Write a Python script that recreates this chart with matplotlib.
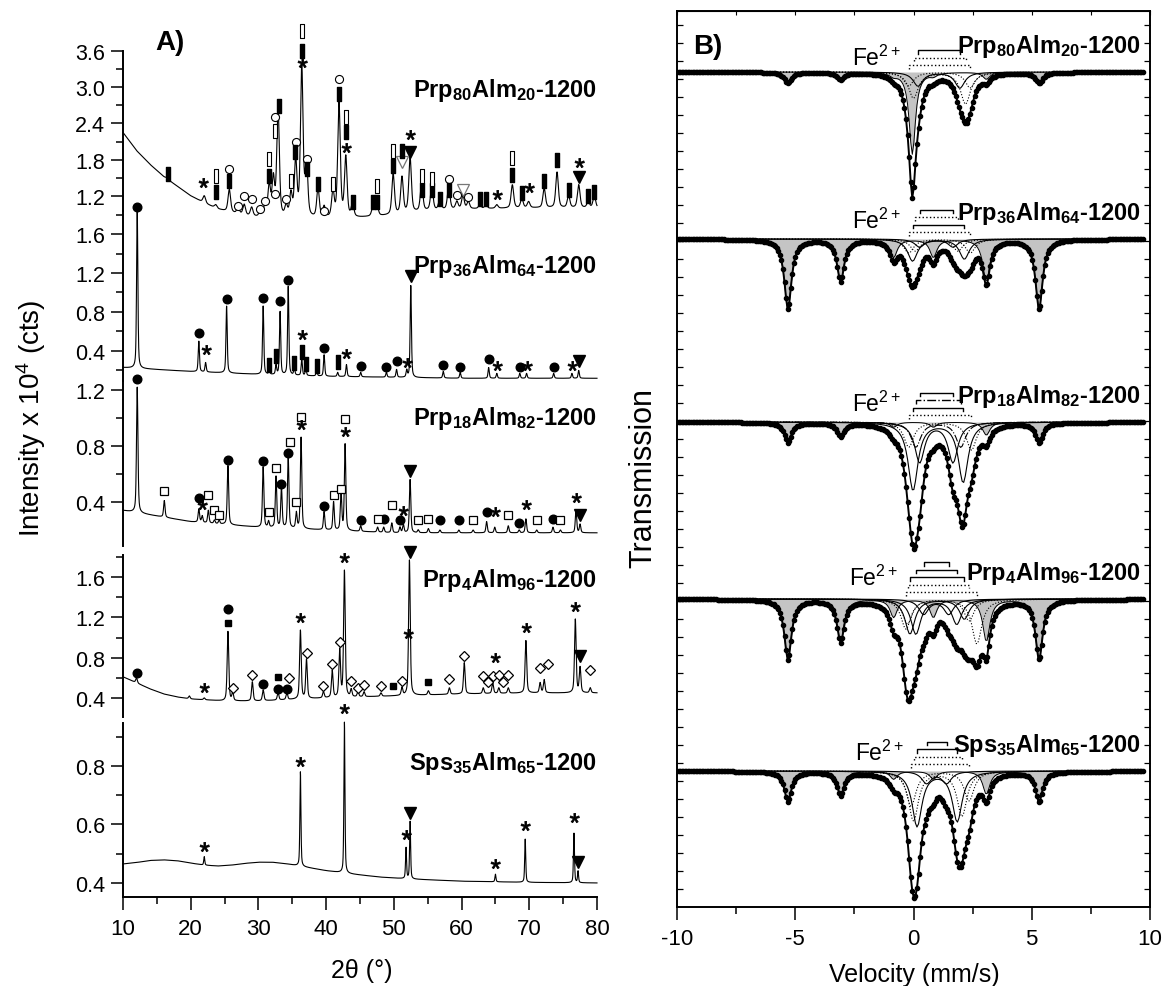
import numpy as np
import matplotlib.pyplot as plt
from matplotlib.path import Path
from matplotlib.textpath import TextPath
from matplotlib.font_manager import FontProperties

plt.rcParams['font.family'] = ['Liberation Sans', 'DejaVu Sans']
plt.rcParams['mathtext.default'] = 'regular'
plt.rcParams['axes.unicode_minus'] = False

W, H = 1165, 987
def fx(p): return p / W
def fy(p): return 1 - p / H

# ---------------- A) XRD ----------------
nomes = ['Prp$_{80}$Alm$_{20}$-1200', 'Prp$_{36}$Alm$_{64}$-1200', 'Prp$_{18}$Alm$_{82}$-1200',
         'Prp$_{4}$Alm$_{96}$-1200', 'Sps$_{35}$Alm$_{65}$-1200']

# fundo (2theta, cts x10^4)
bg1 = [(10, 2.25), (12, 1.95), (14, 1.72), (16, 1.52), (18, 1.36), (20, 1.2), (22, 1.08), (24, 0.98),
       (26, 0.92), (28, 0.87), (30, 0.84), (35, 0.82), (40, 0.82), (45, 0.84), (50, 0.88), (55, 0.95),
       (60, 0.98), (65, 0.99), (70, 1.0), (80, 1.0)]
bg2 = [(10, 0.23), (20, 0.19), (30, 0.16), (40, 0.14), (50, 0.13), (60, 0.12), (80, 0.12)]
bg3 = [(10, 0.34), (15, 0.30), (20, 0.26), (25, 0.24), (30, 0.22), (40, 0.20), (50, 0.18), (80, 0.18)]
bg4 = [(10, 0.61), (12, 0.55), (14, 0.49), (16, 0.44), (18, 0.41), (20, 0.39), (25, 0.37), (30, 0.37),
       (40, 0.40), (50, 0.42), (60, 0.44), (70, 0.45), (80, 0.45)]
bg5 = [(10, 0.465), (12, 0.47), (14, 0.477), (16, 0.479), (18, 0.476), (20, 0.468), (22, 0.461),
       (24, 0.458), (26, 0.461), (28, 0.467), (30, 0.471), (32, 0.471), (34, 0.466), (36, 0.458),
       (38, 0.45), (40, 0.442), (44, 0.43), (48, 0.42), (52, 0.414), (56, 0.41), (60, 0.406),
       (70, 0.402), (80, 0.40)]

# picos (posicao, topo)
pk1 = [(16.5, 1.50), (22.0, 1.20), (23.7, 1.05), (25.7, 1.30), (27.0, 1.00), (27.9, 1.05), (29.0, 1.00),
       (30.3, 0.95), (31.0, 1.05), (31.6, 1.35), (32.2, 1.45), (32.9, 2.62), (34.1, 1.00), (34.8, 1.20),
       (35.5, 1.75), (36.4, 3.30), (37.1, 1.72), (38.8, 1.30), (39.7, 1.00), (41.0, 1.25), (41.9, 2.72),
       (42.9, 1.82), (43.9, 1.05), (46.9, 1.00), (47.5, 1.05), (49.9, 1.55), (51.2, 1.50), (52.4, 1.82),
       (54.1, 1.40), (55.6, 1.35), (56.8, 1.15), (58.1, 1.35), (59.3, 1.10), (60.2, 1.20), (61.0, 1.10),
       (62.7, 1.05), (63.6, 1.05), (65.2, 1.05), (67.5, 1.38), (68.9, 1.15), (69.9, 1.10), (72.2, 1.32),
       (74.1, 1.59), (75.8, 1.20), (77.3, 1.38), (78.7, 1.10), (79.6, 1.20)]
pk2 = [(12.1, 1.86), (21.2, 0.50), (22.2, 0.28), (25.3, 0.86), (30.7, 0.86), (31.6, 0.20), (32.6, 0.25),
       (33.2, 0.80), (34.4, 1.06), (35.3, 0.22), (36.4, 0.31), (37.0, 0.22), (38.6, 0.20), (39.7, 0.36),
       (41.7, 0.18), (43.0, 0.26), (45.1, 0.18), (48.9, 0.18), (50.4, 0.21), (51.9, 0.20), (52.5, 1.07),
       (57.3, 0.19), (59.8, 0.18), (64.0, 0.23), (65.2, 0.17), (68.6, 0.17), (69.6, 0.17), (73.6, 0.17),
       (76.3, 0.17), (77.3, 0.20)]
pk3 = [(12.1, 1.22), (16.1, 0.41), (21.2, 0.35), (21.7, 0.30), (22.6, 0.34), (23.5, 0.27), (24.2, 0.27),
       (25.5, 0.66), (30.7, 0.65), (31.5, 0.26), (32.6, 0.58), (33.4, 0.50), (34.4, 0.72), (35.6, 0.32),
       (36.3, 0.86), (39.7, 0.33), (41.1, 0.40), (42.2, 0.47), (42.8, 0.81), (45.1, 0.23), (47.6, 0.22),
       (48.5, 0.22), (49.7, 0.25), (50.9, 0.22), (51.4, 0.24), (52.4, 0.56), (53.6, 0.20), (55.1, 0.21),
       (56.8, 0.20), (59.6, 0.20), (61.7, 0.20), (63.7, 0.26), (64.9, 0.22), (66.9, 0.23), (68.5, 0.20),
       (69.5, 0.28), (71.1, 0.20), (73.5, 0.22), (74.6, 0.20), (76.9, 0.34), (77.5, 0.24)]
pk4 = [(12.0, 0.60), (19.8, 0.42), (22.0, 0.40), (25.5, 1.06), (26.2, 0.45), (29.1, 0.56), (30.7, 0.48),
       (32.9, 0.45), (34.2, 0.45), (36.2, 1.07), (37.1, 0.78), (39.6, 0.46), (40.9, 0.67), (42.0, 0.87),
       (42.7, 1.66), (43.7, 0.48), (44.7, 0.46), (45.6, 0.46), (48.1, 0.45), (51.2, 0.50), (52.3, 1.77),
       (55.1, 0.47), (58.2, 0.50), (60.4, 0.75), (63.2, 0.50), (64.6, 0.55), (65.5, 0.50), (66.9, 0.50),
       (69.5, 0.97), (71.6, 0.55), (72.2, 0.58), (76.8, 1.18), (77.5, 0.70), (79.0, 0.50)]
pk5 = [(22.0, 0.49), (36.2, 0.78), (42.7, 0.95), (51.8, 0.52), (52.4, 0.61), (65.0, 0.43), (69.4, 0.55),
       (76.6, 0.57), (77.2, 0.44)]
larg = [0.45, 0.22, 0.25, 0.28, 0.18]

# simbolos das fases
star1 = [(21.8, 1.35), (36.4, 3.33), (43.0, 1.93), (52.4, 2.14), (65.2, 1.15), (69.9, 1.26), (77.3, 1.67)]
tri1 = [(52.4, 1.93), (77.3, 1.51)]
otri1 = [(51.2, 1.76), (60.2, 1.30)]
ocirc1 = [(25.7, 1.64), (27.0, 1.03), (27.9, 1.20), (29.0, 1.15), (30.3, 0.98), (31.0, 1.12), (32.4, 1.23),
          (32.5, 2.50), (34.1, 1.15), (35.5, 2.10), (37.1, 1.81), (39.7, 0.95), (41.9, 3.14), (58.1, 1.48),
          (59.3, 1.21), (61.0, 1.18)]
bar1 = [(16.6, 1.56), (23.7, 1.26), (25.7, 1.45), (31.6, 1.53), (33.1, 2.69), (35.4, 1.93), (36.4, 3.60),
        (37.1, 1.64), (38.8, 1.40), (41.9, 2.89), (43.0, 2.26), (43.9, 1.10), (46.9, 1.10), (47.5, 1.10),
        (49.9, 1.70), (51.2, 1.95), (54.1, 1.30), (55.6, 1.30), (56.8, 1.15), (58.1, 1.30), (62.7, 1.15),
        (63.6, 1.15), (67.5, 1.55), (68.9, 1.25), (72.2, 1.45), (74.1, 1.80), (75.8, 1.30), (78.7, 1.20),
        (79.6, 1.26)]
rect1 = [(23.7, 1.53), (31.6, 1.81), (32.5, 2.28), (34.8, 1.45), (36.4, 3.93), (41.0, 1.40), (42.9, 2.50),
         (47.5, 1.37), (49.9, 1.95), (54.1, 1.53), (55.6, 1.48), (67.5, 1.82)]

dot2 = [(12.1, 1.88), (21.2, 0.58), (25.3, 0.93), (30.7, 0.94), (33.2, 0.91), (34.4, 1.13), (39.7, 0.43),
        (45.1, 0.25), (48.9, 0.24), (50.4, 0.30), (57.3, 0.26), (59.8, 0.24), (64.0, 0.32), (68.6, 0.24),
        (73.6, 0.24)]
star2 = [(22.2, 0.37), (36.4, 0.52), (43.0, 0.33), (51.9, 0.24), (65.2, 0.20), (69.6, 0.20), (76.3, 0.20)]
bar2 = [(31.6, 0.26), (32.6, 0.35), (35.3, 0.28), (36.4, 0.39), (37.0, 0.27), (38.6, 0.25), (41.7, 0.29)]
tri2 = [(52.5, 1.17), (77.3, 0.30)]

dot3 = [(12.1, 1.28), (21.2, 0.43), (25.5, 0.70), (30.7, 0.69), (33.4, 0.53), (34.4, 0.75), (39.7, 0.37),
        (45.1, 0.27), (48.5, 0.28), (50.9, 0.27), (56.8, 0.27), (59.6, 0.27), (63.7, 0.33), (68.5, 0.25),
        (73.5, 0.28)]
sq3 = [(16.1, 0.48), (22.6, 0.45), (23.5, 0.34), (24.2, 0.31), (31.5, 0.33), (32.6, 0.64), (34.7, 0.83),
       (35.6, 0.40), (36.3, 1.01), (41.1, 0.45), (42.2, 0.49), (42.8, 0.99), (47.6, 0.28), (49.7, 0.38),
       (53.6, 0.27), (55.1, 0.28), (61.7, 0.27), (66.9, 0.31), (71.1, 0.27), (74.6, 0.27)]
star3 = [(21.7, 0.35), (36.3, 0.92), (42.8, 0.87), (51.4, 0.31), (64.9, 0.30), (69.5, 0.35), (76.9, 0.40)]
tri3 = [(52.4, 0.62), (77.5, 0.31)]

dot4 = [(12.0, 0.65), (25.5, 1.28), (30.7, 0.54), (32.9, 0.49), (34.2, 0.49)]
fsq4 = [(25.5, 1.14), (32.9, 0.61), (49.9, 0.52), (55.1, 0.56)]
dia4 = [(26.2, 0.50), (29.1, 0.63), (34.5, 0.60), (37.1, 0.85), (39.6, 0.52), (40.9, 0.74), (42.0, 0.96),
        (43.7, 0.57), (44.7, 0.50), (45.6, 0.53), (48.1, 0.52), (51.2, 0.57), (58.2, 0.59), (60.4, 0.82),
        (63.2, 0.62), (63.9, 0.56), (64.6, 0.62), (65.5, 0.63), (66.1, 0.56), (66.9, 0.63), (71.6, 0.70),
        (72.7, 0.74), (79.0, 0.68)]
star4 = [(22.0, 0.46), (36.2, 1.15), (42.7, 1.75), (52.1, 1.00), (64.9, 0.76), (69.5, 1.06), (76.8, 1.26)]
tri4 = [(52.4, 1.85), (77.5, 0.82)]

star5 = [(22.0, 0.51), (36.2, 0.80), (42.7, 0.98), (51.8, 0.55), (65.0, 0.45), (69.4, 0.58), (76.6, 0.61)]
tri5 = [(52.4, 0.64), (77.2, 0.47)]

# ---------------- B) Mossbauer ----------------
linhas_fe = [-5.31, -3.08, -0.84, 0.84, 3.08, 5.31]   # alpha-Fe
base_ms = [835, 668, 485, 308, 136]
sext_ms = [[11, 7, 3, 3, 7, 11],
           [70, 42, 18, 18, 42, 70],
           [20, 13, 5, 5, 13, 20],
           [60, 42, 18, 18, 42, 60],
           [30, 23, 8, 8, 23, 30]]
# dubletos Fe2+: (v1, v2, prof1, prof2, estilo)
dub_ms = [[(0.19, 1.96, 14, 16, '-'), (0.0, 2.2, 26, 32, ':'), (-0.2, 2.4, 14, 16, ':')],
          [(0.26, 1.67, 8, 8, '-'), (0.07, 1.88, 12, 12, ':'), (-0.04, 2.15, 22, 20, '-'),
           (-0.2, 2.4, 14, 14, ':')],
          [(0.26, 1.67, 40, 40, '-'), (0.1, 2.0, 25, 25, '-.'), (-0.02, 2.1, 68, 60, '-'),
           (-0.2, 2.45, 25, 28, ':')],
          [(0.43, 1.49, 15, 15, '-'), (0.1, 1.83, 35, 25, '-'), (-0.15, 2.15, 35, 20, '-'),
           (-0.25, 2.35, 25, 22, ':'), (-0.32, 2.68, 30, 45, ':')],
          [(0.55, 1.4, 12, 12, '-'), (0.15, 1.85, 55, 50, '-'), (0.0, 2.05, 50, 45, ':'),
           (-0.1, 2.35, 35, 30, ':')]]
sing_ms = [(-0.05, 82), None, None, None, None]

fig = plt.figure(figsize=(W / 100, H / 100), dpi=100)

topo = [52, 212, 382, 556, 724]
fundo = [212, 382, 547, 718, 898]
ylims = [(0.949, 3.6), (0.092, 1.836), (0.086, 1.264), (0.211, 1.82), (0.352, 0.947)]
yt_maj = [[1.2, 1.8, 2.4, 3.0, 3.6], [0.4, 0.8, 1.2, 1.6], [0.4, 0.8, 1.2], [0.4, 0.8, 1.2, 1.6], [0.4, 0.6, 0.8]]
yt_min = [[1.5, 2.1, 2.7, 3.3], [0.2, 0.6, 1.0, 1.4, 1.8], [0.6, 1.0], [0.6, 1.0, 1.4, 1.8], [0.5, 0.7, 0.9]]

bgs = [bg1, bg2, bg3, bg4, bg5]
pks = [pk1, pk2, pk3, pk4, pk5]
tt = np.arange(10, 80.001, 0.02)

def perfil(bg, pk, w):
    bx, by = zip(*bg)
    y = np.interp(tt, bx, by)
    for p, h in pk:
        a = h - np.interp(p, bx, by)
        lor = 1 / (1 + ((tt - p) / (w / 2)) ** 2)
        gau = np.exp(-4 * np.log(2) * ((tt - p) / w) ** 2)
        y = y + a * (0.5 * lor + 0.5 * gau)
    return y

fp = FontProperties(family='Liberation Sans')
tp = TextPath((0, 0), '*', size=10, prop=fp)
vv = tp.vertices
ast = Path(vv - (vv.min(0) + vv.max(0)) / 2, tp.codes)
retang = Path([(-1, -3), (1, -3), (1, 3), (-1, 3), (-1, -3)],
              [Path.MOVETO, Path.LINETO, Path.LINETO, Path.LINETO, Path.CLOSEPOLY])
barra = Path([(-0.7, -3), (0.7, -3), (0.7, 3), (-0.7, 3), (-0.7, -3)],
             [Path.MOVETO, Path.LINETO, Path.LINETO, Path.LINETO, Path.CLOSEPOLY])

def simb(ax, pts, **kw):
    if not pts:
        return
    x, y = zip(*pts)
    ax.plot(x, y, linestyle='none', clip_on=False, zorder=5, **kw)

estilos = {
    'star': dict(marker=ast, ms=13, color='k', mew=0.6),
    'tri': dict(marker='v', ms=8.5, color='k'),
    'otri': dict(marker='v', ms=8, mfc='white', mec='#777777', mew=0.9),
    'ocirc': dict(marker='o', ms=5.8, mfc='white', mec='k', mew=0.8),
    'bar': dict(marker=barra, ms=9.5, color='k'),
    'rect': dict(marker=retang, ms=10, mfc='white', mec='k', mew=0.8),
    'dot': dict(marker='o', ms=6.2, color='k'),
    'sq': dict(marker='s', ms=5.3, mfc='white', mec='k', mew=0.9),
    'fsq': dict(marker='s', ms=4.5, color='k'),
    'dia': dict(marker='D', ms=5.0, mfc='white', mec='k', mew=0.9),
}
simbolos = [
    [('star', star1), ('tri', tri1), ('otri', otri1), ('ocirc', ocirc1), ('bar', bar1), ('rect', rect1)],
    [('dot', dot2), ('star', star2), ('bar', bar2), ('tri', tri2)],
    [('dot', dot3), ('sq', sq3), ('star', star3), ('tri', tri3)],
    [('dot', dot4), ('fsq', fsq4), ('dia', dia4), ('star', star4), ('tri', tri4)],
    [('star', star5), ('tri', tri5)],
]

rotulo_base = [97, 273, 425, 587, 770]
for i in range(5):
    ax = fig.add_axes([fx(123), fy(fundo[i]), fx(597 - 123), (fundo[i] - topo[i]) / H])
    ax.patch.set_alpha(0)
    ax.plot(tt, perfil(bgs[i], pks[i], larg[i]), color='k', lw=0.8, clip_on=False)
    for nome, pts in simbolos[i]:
        simb(ax, pts, **estilos[nome])
    ax.set_xlim(10, 80)
    ax.set_ylim(*ylims[i])
    ax.set_yticks(yt_maj[i])
    ax.set_yticks(yt_min[i], minor=True)
    ax.set_yticklabels(['%.1f' % v for v in yt_maj[i]], fontsize=15.5)
    for s in ['top', 'right']:
        ax.spines[s].set_visible(False)
    ax.spines['left'].set_linewidth(1.4)
    ax.tick_params(axis='y', which='major', length=9, width=1.1, pad=4)
    ax.tick_params(axis='y', which='minor', length=5, width=1.1)
    if i < 4:
        ax.spines['bottom'].set_visible(False)
        ax.set_xticks([])
    else:
        ax.spines['bottom'].set_linewidth(1.4)
        ax.set_xticks(range(10, 81, 10))
        ax.set_xticks(range(15, 80, 10), minor=True)
        ax.tick_params(axis='x', which='major', length=9, width=1.1, pad=6, labelsize=16)
        ax.tick_params(axis='x', which='minor', length=5, width=1.1)
    fig.text(fx(597), fy(rotulo_base[i]), nomes[i], ha='right', va='baseline', fontsize=17,
             fontweight='bold')

fig.text(fx(155), fy(43), 'A)', ha='left', va='center', fontsize=20, fontweight='bold')
fig.text(fx(31), fy(418), 'Intensity x 10$^4$ (cts)', rotation=90, ha='center', va='center', fontsize=20)
fig.text(fx(362), fy(971), '2θ (°)', ha='center', va='center', fontsize=18)

# ---------- painel B ----------
ax2 = fig.add_axes([fx(677), fy(908), fx(1150 - 677), (908 - 12) / H])
vel = np.linspace(-10, 9.7, 300)

def lorentz(v, c, d, w):
    return d / (1 + ((v - c) / (w / 2)) ** 2)

for k in range(5):
    b = base_ms[k]
    sext = np.zeros_like(vel)
    for c, d in zip(linhas_fe, sext_ms[k]):
        sext += lorentz(vel, c, d, 0.36)
    if sing_ms[k] is not None:
        sext += lorentz(vel, sing_ms[k][0], sing_ms[k][1], 0.32)
    total = sext.copy()
    comps = []
    for v1, v2, d1, d2, ls in dub_ms[k]:
        cc = lorentz(vel, v1, d1, 0.5) + lorentz(vel, v2, d2, 0.5)
        comps.append((cc, ls))
        total += cc
    ax2.fill_between(vel, b - sext, b, color='#c4c4c4', lw=0)
    ax2.plot(vel, b - sext, color='k', lw=0.7)
    for cc, ls in comps:
        ax2.plot(vel, b - cc, color='k', lw=0.8, ls=ls)
    ax2.plot(vel, b - total, color='k', lw=1.4)
    ax2.plot(vel, b - total, 'o', color='k', ms=3)
    # barras dos dubletos
    n = len(dub_ms[k])
    for j, (v1, v2, d1, d2, ls) in enumerate(dub_ms[k]):
        h = b + 7 + 7.5 * (n - 1 - j)
        ax2.plot([v1, v1, v2, v2], [h - 3.5, h, h, h - 3.5], color='k', lw=1.0, ls=ls)
    vmin = min(d[0] for d in dub_ms[k])
    ax2.text(vmin - 0.3, b + 7 + 7.5 * (n - 1) / 2, 'Fe$^{2+}$', ha='right', va='center', fontsize=16.5)
    ax2.text(9.6, b + 20, nomes[k], ha='right', va='baseline', fontsize=17, fontweight='bold')

ax2.set_xlim(-10, 10)
ax2.set_ylim(0, 896)
ax2.set_xticks([-10, -5, 0, 5, 10])
ax2.set_xticks([-7.5, -2.5, 2.5, 7.5], minor=True)
ax2.set_yticks(np.arange(18, 896, 18))
ax2.set_yticklabels([])
for s in ax2.spines.values():
    s.set_linewidth(1.4)
ax2.tick_params(axis='x', which='major', length=9, width=1.1, pad=6, labelsize=16, direction='out')
ax2.tick_params(axis='x', which='minor', length=5, width=1.1, direction='out')
ax2.tick_params(axis='y', length=4, width=0.9, direction='in', left=True, right=True)
ax2.secondary_xaxis('top').tick_params(axis='x', direction='in', length=3, labeltop=False)
fig.text(fx(693), fy(47), 'B)', ha='left', va='center', fontsize=20, fontweight='bold')
fig.text(fx(643), fy(478), 'Transmission', rotation=90, ha='center', va='center', fontsize=22)
fig.text(fx(914), fy(975), 'Velocity (mm/s)', ha='center', va='center', fontsize=18)

fig.savefig('out.png', dpi=100)
